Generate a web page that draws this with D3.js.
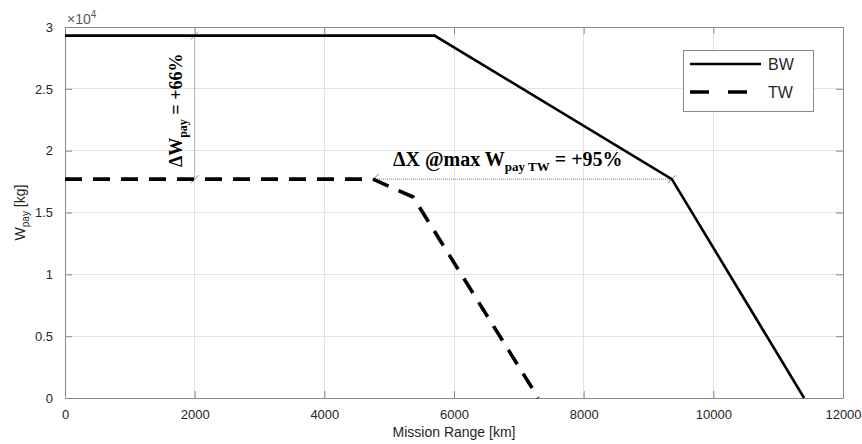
<!DOCTYPE html>
<html>
<head>
<meta charset="utf-8">
<script src="https://cdn.jsdelivr.net/npm/d3@7"></script>
<style>
  html, body { margin: 0; padding: 0; background: #fff; }
  svg { display: block; }
</style>
</head>
<body>
<svg id="chart" width="862" height="444"></svg>
<script>
// ---- data ----
const bwRange   = [0, 5700, 9360, 11400];
const bwPayload = [29300, 29300, 17700, 0];
const twRange   = [0, 4750, 5370, 7300];
const twPayload = [17700, 17700, 16250, 0];
const seriesNames = ["BW", "TW"];
const xTicks = [0, 2000, 4000, 6000, 8000, 10000, 12000];
const yTicks = [0, 5000, 10000, 15000, 20000, 25000, 30000];
const yTickLabels = ["0", "0.5", "1", "1.5", "2", "2.5", "3"];
const annWpay = { x: 2000, y0: 29300, y1: 17700, text: "= +66%" };
const annRange = { y: 17700, x0: 4750, x1: 9360, text: "= +95%" };

// ---- layout ----
const svg = d3.select("#chart");
const L = 65, T = 27, W = 778, H = 371;
const x = d3.scaleLinear().domain([0, 12000]).range([L, L + W]);
const y = d3.scaleLinear().domain([0, 30000]).range([T + H, T]);
const axisCol = "#262626";
const sans = "'Liberation Sans', Arial, sans-serif";

// grid
const g = svg.append("g");
g.selectAll(".vg").data(xTicks.slice(1, -1)).enter().append("line")
  .attr("x1", d => x(d)).attr("x2", d => x(d)).attr("y1", T).attr("y2", T + H)
  .attr("stroke", "#e3e3e3").attr("stroke-width", 1).attr("shape-rendering", "crispEdges");
g.selectAll(".hg").data(yTicks.slice(1, -1)).enter().append("line")
  .attr("y1", d => y(d)).attr("y2", d => y(d)).attr("x1", L).attr("x2", L + W)
  .attr("stroke", "#e3e3e3").attr("stroke-width", 1).attr("shape-rendering", "crispEdges");

// axes
const xAxis = d3.axisBottom(x).tickValues(xTicks).tickFormat(d3.format("d")).tickSizeInner(-7).tickSizeOuter(0).tickPadding(12);
const yAxis = d3.axisLeft(y).tickValues(yTicks).tickFormat((d, i) => yTickLabels[i]).tickSizeInner(-7).tickSizeOuter(0).tickPadding(12);
const xTop = d3.axisTop(x).tickValues(xTicks).tickFormat("").tickSizeInner(-7).tickSizeOuter(0);
const yRight = d3.axisRight(y).tickValues(yTicks).tickFormat("").tickSizeInner(-7).tickSizeOuter(0);

function styleAxis(sel) {
  sel.select(".domain").attr("stroke", "#8a8a8a");
  sel.selectAll(".tick line").attr("stroke", "#8a8a8a");
  sel.selectAll("text").attr("fill", axisCol).style("font-family", sans).style("font-size", "13px");
}
styleAxis(svg.append("g").attr("transform", `translate(0,${T + H})`).call(xAxis));
styleAxis(svg.append("g").attr("transform", `translate(${L},0)`).call(yAxis));
styleAxis(svg.append("g").attr("transform", `translate(0,${T})`).call(xTop));
styleAxis(svg.append("g").attr("transform", `translate(${L + W},0)`).call(yRight));

// exponent label
const ex = svg.append("text").attr("x", L + 2).attr("y", T - 3)
  .attr("fill", "#5a5a5a").style("font-family", sans).style("font-size", "14px");
ex.append("tspan").text("\u00d710");
ex.append("tspan").attr("dy", -6).style("font-size", "10px").text("4");

// axis labels
svg.append("text").attr("x", L + W / 2).attr("y", 437).attr("text-anchor", "middle")
  .attr("fill", axisCol).style("font-family", sans).style("font-size", "14px")
  .text("Mission Range [km]");
const yl = svg.append("text").attr("transform", `translate(25,${T + H / 2}) rotate(-90)`).attr("text-anchor", "middle")
  .attr("fill", axisCol).style("font-family", sans).style("font-size", "14px");
yl.append("tspan").text("W");
yl.append("tspan").attr("dy", 4).style("font-size", "10px").text("pay");
yl.append("tspan").attr("dy", -4).text(" [kg]");

// lines
const line = d3.line().x(d => x(d[0])).y(d => y(d[1]));
const bwData = bwRange.map((r, i) => [r, bwPayload[i]]);
const twData = twRange.map((r, i) => [r, twPayload[i]]);

// annotations (under lines)
const annCol = "#8f8f8f";
const ag = svg.append("g");
ag.append("line").attr("x1", x(annWpay.x)).attr("x2", x(annWpay.x))
  .attr("y1", y(annWpay.y0)).attr("y2", y(annWpay.y1))
  .attr("stroke", annCol).attr("stroke-width", 1.2).attr("stroke-dasharray", "1,1");
ag.append("line").attr("x1", x(annRange.x0)).attr("x2", x(annRange.x1))
  .attr("y1", y(annRange.y)).attr("y2", y(annRange.y))
  .attr("stroke", annCol).attr("stroke-width", 1.2).attr("stroke-dasharray", "1,1");
function slash(cx, cy) {
  ag.append("line").attr("x1", cx - 4).attr("y1", cy + 4).attr("x2", cx + 4).attr("y2", cy - 4)
    .attr("stroke", annCol).attr("stroke-width", 1);
}
slash(x(annWpay.x), y(annWpay.y0));
slash(x(annWpay.x), y(annWpay.y1));
slash(x(annRange.x1), y(annRange.y));
ag.append("path")
  .attr("d", `M${x(annRange.x0) + 6},${y(annRange.y) - 5} L${x(annRange.x0)},${y(annRange.y)} L${x(annRange.x0) + 6},${y(annRange.y) + 3}`)
  .attr("fill", "none").attr("stroke", annCol).attr("stroke-width", 1);

svg.append("path").datum(bwData).attr("d", line).attr("fill", "none")
  .attr("stroke", "#000").attr("stroke-width", 2.6).attr("stroke-linejoin", "miter");
svg.append("path").datum(twData).attr("d", line).attr("fill", "none")
  .attr("stroke", "#000").attr("stroke-width", 3.6).attr("stroke-dasharray", "17,11");

// annotation texts
const serif = "'Liberation Serif', 'Times New Roman', serif";
const t1 = svg.append("text")
  .attr("transform", `translate(${x(annWpay.x) - 13},${y(annWpay.y1) - 12}) rotate(-90)`)
  .attr("fill", "#000").style("font-family", serif).style("font-size", "18px").style("font-weight", "bold");
t1.append("tspan").text("\u0394W");
t1.append("tspan").attr("dy", 5).style("font-size", "12px").text("pay");
t1.append("tspan").attr("dy", -5).text(" " + annWpay.text);

const t2 = svg.append("text")
  .attr("x", x(annRange.x0) + 20).attr("y", y(annRange.y) - 13)
  .attr("fill", "#000").style("font-family", serif).style("font-size", "20px").style("font-weight", "bold");
t2.append("tspan").text("\u0394X @max W");
t2.append("tspan").attr("dy", 5).style("font-size", "13px").text("pay TW");
t2.append("tspan").attr("dy", -5).text(" " + annRange.text);

// legend
const lg = svg.append("g");
const lx0 = 683, lx1 = 813, ly0 = 50, ly1 = 111;
lg.append("rect").attr("x", lx0).attr("y", ly0).attr("width", lx1 - lx0).attr("height", ly1 - ly0)
  .attr("fill", "#fff").attr("stroke", "#8a8a8a").attr("stroke-width", 1).attr("shape-rendering", "crispEdges");
const legRows = [{ name: seriesNames[0], yy: 64, w: 2.6, dash: null }, { name: seriesNames[1], yy: 92, w: 3.6, dash: "19,19" }];
legRows.forEach(r => {
  const ln = lg.append("line").attr("x1", 690).attr("x2", 761).attr("y1", r.yy).attr("y2", r.yy)
    .attr("stroke", "#000").attr("stroke-width", r.w);
  if (r.dash) ln.attr("stroke-dasharray", r.dash);
  lg.append("text").attr("x", 768).attr("y", r.yy + 5.5).attr("fill", axisCol)
    .style("font-family", sans).style("font-size", "16px").text(r.name);
});
</script>
</body>
</html>
